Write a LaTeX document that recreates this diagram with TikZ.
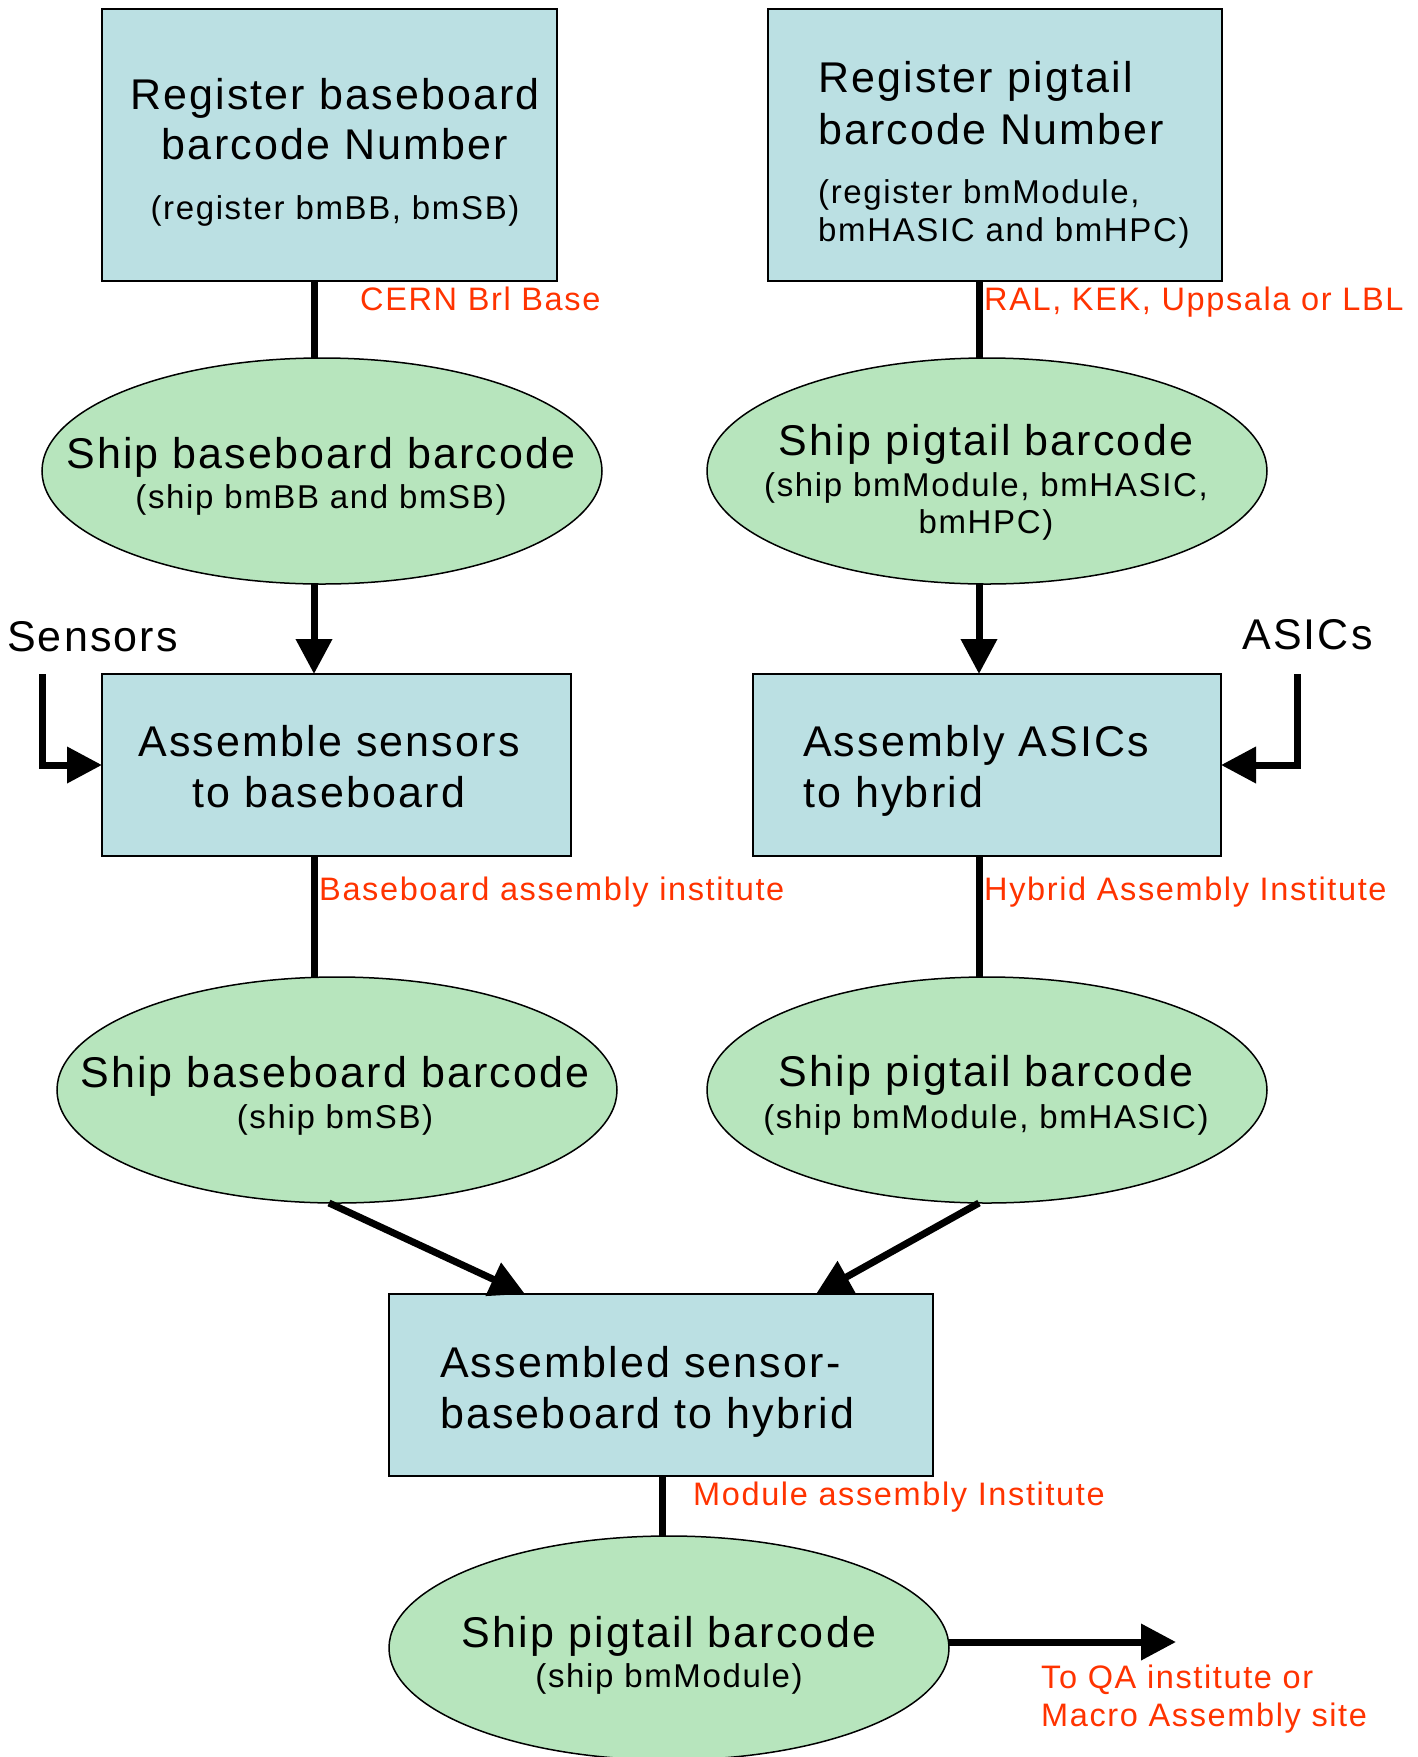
\documentclass[tikz,border=0pt]{standalone}
\usepackage{fontspec}
\setmainfont{Liberation Sans}[LetterSpace=5]
\usetikzlibrary{arrows.meta,shapes.geometric}
\definecolor{boxblue}{RGB}{187,224,227}
\definecolor{ovalgreen}{RGB}{183,229,189}
\definecolor{lblred}{RGB}{255,51,0}
\begin{document}
\begin{tikzpicture}[x=1pt,y=-1pt,
  box/.style={draw=black, line width=1.5pt, fill=boxblue, rectangle, inner sep=0pt, outer sep=0pt},
  oval/.style={draw=black, line width=1.5pt, fill=ovalgreen, ellipse, inner sep=0pt, outer sep=0pt, minimum width=560pt, minimum height=226pt},
  conn/.style={line width=7pt},
  arr/.style={line width=7pt, line join=miter, -{Triangle[length=35pt,width=35pt]}},
  bigtxt/.style={font=\fontsize{43}{50}\selectfont, inner sep=0pt, anchor=base},
  bigleft/.style={bigtxt, anchor=base west},
  smalltxt/.style={font=\fontsize{33}{40}\selectfont, inner sep=0pt, anchor=base},
  smallleft/.style={smalltxt, anchor=base west},
  redlbl/.style={font=\fontsize{32.5}{38}\selectfont, text=lblred, inner sep=0pt, anchor=base west}
]
\useasboundingbox (0,0) rectangle (1417,1757);
\fill[white] (0,0) rectangle (1417,1757);

% shapes
\node[box, minimum width=455pt, minimum height=272pt] (b1) at (329.5,145) {};
\node[box, minimum width=454pt, minimum height=272pt] (b2) at (995,145) {};
\node[oval] (e1) at (322,471) {};
\node[oval] (e2) at (987,471) {};
\node[box, minimum width=469pt, minimum height=182pt] (b3) at (336.5,765) {};
\node[box, minimum width=468pt, minimum height=182pt] (b4) at (987,765) {};
\node[oval] (e3) at (337,1090) {};
\node[oval] (e4) at (987,1090) {};
\node[box, minimum width=544pt, minimum height=182pt] (b5) at (661,1385) {};
\node[oval, minimum height=224pt] (e5) at (669,1648) {};

% helper coordinates
\coordinate (xL) at (314,0);
\coordinate (xR) at (979,0);
\coordinate (xM) at (662,0);
\coordinate (sen) at (42,674);
\coordinate (asi) at (1297,674);
\coordinate (qa) at (1176,1642);

% connectors
\draw[conn] (b1.south -| xL) -- (e1.north -| xL);
\draw[arr] (e1.south -| xL) -- (b3.north -| xL);
\draw[conn] (b3.south -| xL) -- (e3.north -| xL);
\draw[conn] (b2.south -| xR) -- (e2.north -| xR);
\draw[arr] (e2.south -| xR) -- (b4.north -| xR);
\draw[conn] (b4.south -| xR) -- (e4.north -| xR);
\draw[arr] ([xshift=-8pt]e3.south) -- ([xshift=-136pt]b5.north);
\draw[arr] ([xshift=-8pt]e4.south) -- ([xshift=155pt]b5.north);
\draw[conn] (b5.south -| xM) -- (e5.north -| xM);
\draw[arr] ([yshift=6pt]e5.east) -- (qa);
\draw[arr] (sen) |- (b3.west);
\draw[arr] (asi) |- (b4.east);

% box 1
\node[bigtxt] (t1a) at (335,109) {Register baseboard};
\node[bigtxt] (t1b) at (335,159) {barcode Number};
\node[smalltxt] (t1c) at (335,219) {(register bmBB, bmSB)};
% box 2
\node[bigleft] (t2a) at (818,92) {Register pigtail};
\node[bigleft] (t2b) at (818,144) {barcode Number};
\node[smallleft] (t2c) at (818,203) {(register bmModule,};
\node[smallleft] (t2d) at (818,241) {bmHASIC and bmHPC)};
% ellipse 1
\node[bigtxt] (te1a) at (321,468) {Ship baseboard barcode};
\node[smalltxt] (te1b) at (321,508) {(ship bmBB and bmSB)};
% ellipse 2
\node[bigtxt] (te2a) at (986,455) {Ship pigtail barcode};
\node[smalltxt] (te2b) at (986,496) {(ship bmModule, bmHASIC,};
\node[smalltxt] (te2c) at (986,533) {bmHPC)};
% box 3
\node[bigtxt] (t3a) at (329,756) {Assemble sensors};
\node[bigtxt] (t3b) at (329,807) {to baseboard};
% box 4
\node[bigleft] (t4a) at (803,756) {Assembly ASICs};
\node[bigleft] (t4b) at (803,807) {to hybrid};
% ellipse 3
\node[bigtxt] (te3a) at (335,1087) {Ship baseboard barcode};
\node[smalltxt] (te3b) at (335,1128) {(ship bmSB)};
% ellipse 4
\node[bigtxt] (te4a) at (986,1086) {Ship pigtail barcode};
\node[smalltxt] (te4b) at (986,1128) {(ship bmModule, bmHASIC)};
% box 5
\node[bigleft] (t5a) at (440,1377) {Assembled sensor-};
\node[bigleft] (t5b) at (440,1428) {baseboard to hybrid};
% ellipse 5
\node[bigtxt] (te5a) at (669,1647) {Ship pigtail barcode};
\node[smalltxt] (te5b) at (669,1687) {(ship bmModule)};
% inputs
\node[bigleft] (lsen) at (7,651) {Sensors};
\node[bigleft] (lasi) at (1242,649) {ASICs};
% red labels
\node[redlbl] (r1) at (360,310) {CERN Brl Base};
\node[redlbl] (r2) at (984,310) {RAL, KEK, Uppsala or LBL};
\node[redlbl] (r3) at (319,900) {Baseboard assembly institute};
\node[redlbl] (r4) at (984,900) {Hybrid Assembly Institute};
\node[redlbl] (r5) at (693,1505) {Module assembly Institute};
\node[redlbl] (r6) at (1041,1688) {To QA institute or};
\node[redlbl] (r7) at (1041,1726) {Macro Assembly site};
\end{tikzpicture}
\end{document}
